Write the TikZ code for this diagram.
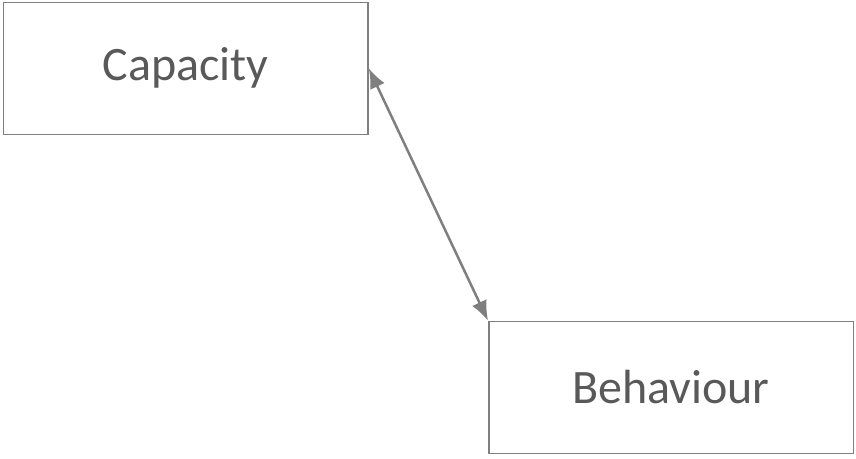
\documentclass[tikz,border=0pt]{standalone}
\usepackage{fontspec}
\setmainfont{Carlito}
\usetikzlibrary{arrows.meta}
\definecolor{boxline}{HTML}{7F7F7F}
\definecolor{boxtext}{HTML}{595959}
\begin{document}
\begin{tikzpicture}
		[x=1pt,y=1pt,
		box/.style={draw=boxline,line width=1.5pt,minimum width=364.5pt,
			minimum height=132pt,inner sep=0pt,text=boxtext,
			font=\fontsize{48}{56}\selectfont},
		link/.style={draw=boxline,line width=2.5pt,
			{Latex[length=20pt,width=16pt]}-{Latex[length=20pt,width=16pt]}}]
		\useasboundingbox (0,0) rectangle (856,-458);
		\node[box] (cap) at (185.75,-68.25) {Capacity};
		\node[box] (beh) at (671,-387.5) {Behaviour};
		\draw[link] (cap.east) -- (beh.north west);
	\end{tikzpicture}
\end{document}
